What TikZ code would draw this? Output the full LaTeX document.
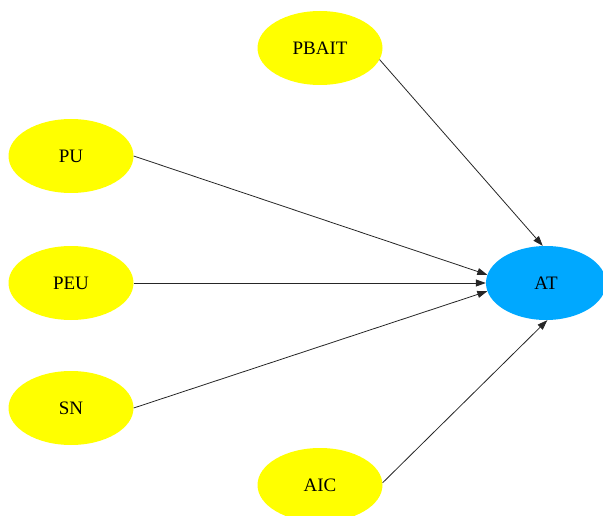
\documentclass[tikz,border=0pt]{standalone}
\usepackage{fontspec}
\setmainfont{Liberation Serif}
\usetikzlibrary{shapes.geometric,arrows.meta}
\definecolor{consyellow}{HTML}{FFFF00}
\definecolor{atblue}{HTML}{00A8FF}
\begin{document}
\begin{tikzpicture}[x=1pt,y=-1pt,
  cons/.style={ellipse,fill=consyellow,minimum width=125pt,minimum height=74pt,inner sep=0pt,font=\fontsize{19}{21}\selectfont},
  link/.style={draw=black!85,line width=0.8pt,-{Triangle[length=10pt,width=7pt]}}]
\useasboundingbox (0,0) rectangle (603,516);
\node[cons] (PBAIT) at (320,48) {PBAIT};
\node[cons] (PU) at (71,156) {PU};
\node[cons] (PEU) at (71,283) {PEU};
\node[cons] (SN) at (71,408) {SN};
\node[cons] (AIC) at (320,485) {AIC};
\node[cons,fill=atblue,minimum width=120pt] (AT) at (546,283) {AT};
\draw[link] (PBAIT.-11.5) -- (AT.95);
\draw[link] (PU.east) -- (AT.172);
\draw[link] (PEU.east) -- (AT.180);
\draw[link] (SN.east) -- (AT.188);
\draw[link] (AIC.2) -- (AT.272);
\end{tikzpicture}
\end{document}
